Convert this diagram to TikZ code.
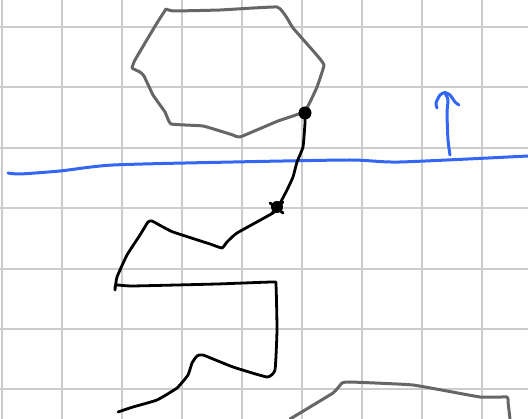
\documentclass[tikz,border=0pt]{standalone}
\usepackage{xcolor}
\usepackage{tikz}
\usetikzlibrary{arrows.meta, positioning}

\definecolor{gridgray}{HTML}{CCCCCC}
\definecolor{inkgray}{HTML}{666666}
\definecolor{inkblue}{HTML}{3366F2}

\begin{document}
\begin{tikzpicture}[
  x=1pt, y=-1pt,
  gridline/.style={draw=gridgray, line width=2pt},
  outline/.style={draw=inkgray, line width=3pt, line join=round, line cap=round},
  stroke/.style={draw=black, line width=2.8pt, line join=round, line cap=round},
  bluestroke/.style={draw=inkblue, line width=3pt, line join=round, line cap=round},
  dot/.style={circle, fill=black, inner sep=0pt, minimum size=13pt}
]
  \useasboundingbox (0,0) rectangle (528,419);
  \fill[white] (0,0) rectangle (528,419);

  % Grid
  \foreach \i in {0,...,8}
    \draw[gridline] ({2+60*\i},0) -- ({2+60*\i},419);
  \foreach \j in {0,...,6}
    \draw[gridline] (0,{27+60.4*\j}) -- (528,{27+60.4*\j});

  % Hexagon
  \draw[outline] plot[smooth, tension=0.2] coordinates {
    (166,9) (173,11) (220,10) (277,7) (287,18) (293,28) (315,53) (324,65)
    (317,87) (310,102) (304,112) (278,121) (240,137) (233,135) (203,126)
    (171,124) (165,112) (153,95) (144,76) (140,72) (132,68) (135,60)
    (145,43) (157,23) (166,9)};

  % Bottom right outline
  \draw[outline] plot[smooth, tension=0.2] coordinates {
    (290,419) (333,393) (342,383) (350,382) (413,385) (480,397) (507,397)
    (508,402) (510,419)};

  % Horizon line
  \draw[bluestroke] plot[smooth, tension=0.4] coordinates {
    (8,173) (20,174) (60,171) (113,165) (233,162) (350,160) (400,162) (528,156)};

  % Up arrow
  \draw[bluestroke] plot[smooth, tension=0.4] coordinates {
    (450,155) (448,140) (447,113) (448,100) (445,93)};
  \draw[bluestroke] plot[smooth, tension=0.4] coordinates {
    (437,108) (436,103) (440,95) (445,92.5) (450,95) (455,102) (459,105)};

  % Contact point
  \node[dot] (contact) at (305,113) {};

  % Path
  \draw[stroke] plot[smooth, tension=0.25] coordinates {
    (305,113) (305,123) (303,147) (297,162) (293,177) (287,190) (278,207)
    (273,213) (237,233) (227,242) (222,248) (210,244) (173,232) (163,227)
    (152,221) (148,222) (140,235) (127,255) (117,277) (115,290) (116,285)
    (132,286) (217,284) (273,282) (276,285) (277,330) (275,370) (267,377)
    (233,367) (203,355) (197,356) (192,363) (188,375) (177,388) (157,400)
    (133,407) (118,412)};

  % Waypoint scribble
  \fill (277,207) circle[radius=6pt];
  \draw[stroke] (270,203) -- (283,213);
  \draw[stroke] (272,213) -- (283,202);
\end{tikzpicture}
\end{document}
